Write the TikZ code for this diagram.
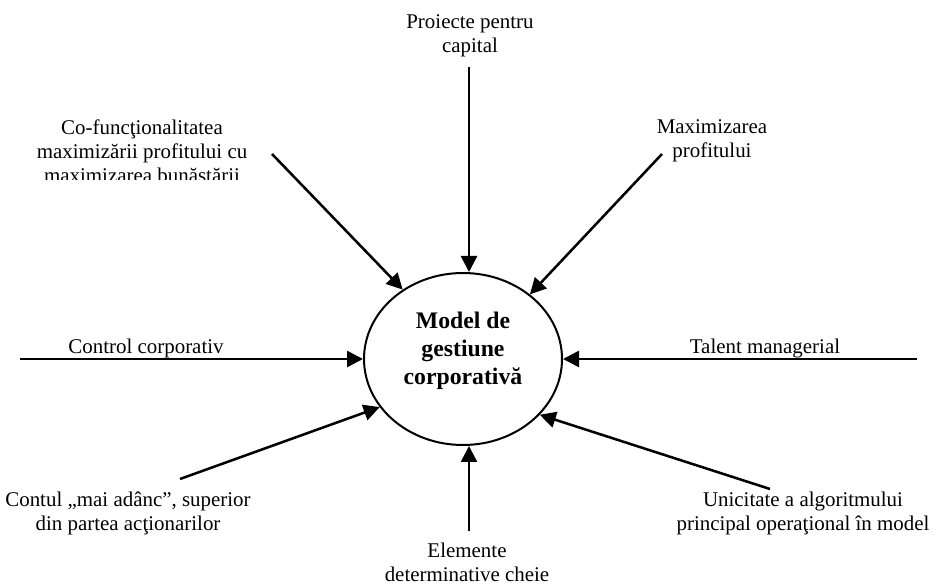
\documentclass[tikz,border=0pt]{standalone}
\usepackage{fontspec}
\setmainfont{Liberation Serif}
\usetikzlibrary{arrows.meta,shapes.geometric}
\begin{document}
\begin{tikzpicture}[x=0.75pt,y=-0.75pt,
  lbl/.style={font=\fontsize{15.7}{18}\selectfont, align=center, inner sep=0pt},
  feed/.style={line width=1.9pt, -{Triangle[length=12pt,width=12pt]}},
  hub/.style={ellipse, draw, line width=1.5pt, minimum width=148.5pt,
              minimum height=129pt, inner sep=0pt},
  hubtext/.style={font=\fontsize{17.8}{21.2}\selectfont\bfseries, align=center, inner sep=0pt}]
\useasboundingbox (0,0) rectangle (936,584);

% central model
\node[hub] (M) at (463,359) {};
\node[hubtext] (Mt) at (463,351) {Model de\\gestiune\\corporativă};

% factor labels
\node[lbl] (Lt)  at (470,36)  {Proiecte pentru\\capital};
\begin{scope}
  \clip (0,0) rectangle (330,180);
  \node[lbl] (Ltl) at (142,151) {Co-funcţionalitatea\\maximizării profitului cu\\maximizarea bunăstării};
\end{scope}
\node[lbl] (Ltr) at (712,141) {Maximizarea\\profitului};
\node[lbl] (Ll)  at (146,348) {Control corporativ};
\node[lbl] (Lr)  at (765,348) {Talent managerial};
\node[lbl] (Lbl) at (128,513) {Contul „mai adânc”, superior\\din partea acţionarilor};
\node[lbl] (Lbr) at (803,513) {Unicitate a algoritmului\\principal operaţional în model};
\node[lbl] (Lb)  at (467,562) {Elemente\\determinative cheie};

% arrow start points
\coordinate (sT)  at (469,67);
\coordinate (sTL) at (272,154);
\coordinate (sTR) at (662,154);
\coordinate (sL)  at (20,359);
\coordinate (sR)  at (917,359);
\coordinate (sBL) at (180,479);
\coordinate (sBR) at (770,489);
\coordinate (sB)  at (469,531);

% arrows into the model
\draw[feed] (sT)  -- (sT |- M.north);
\draw[feed] (sTL) -- (M.131);
\draw[feed] (sTR) -- (M.44);
\draw[feed] (sL)  -- (M.180);
\draw[feed] (sR)  -- (M.0);
\draw[feed] (sBL) -- (M.210);
\draw[feed] (sBR) -- (M.324);
\draw[feed] (sB)  -- (sB |- M.south);
\end{tikzpicture}
\end{document}
